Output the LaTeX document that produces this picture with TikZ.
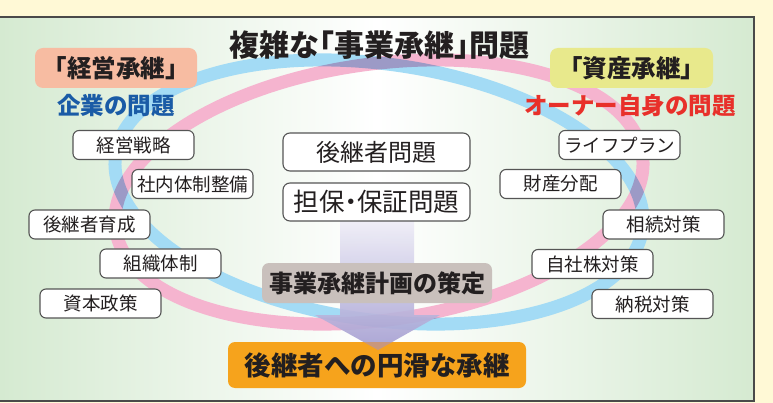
\documentclass[tikz,border=0pt]{standalone}
\usepackage{fontspec}
\newfontfamily\jp{Noto Sans CJK JP}
\newfontfamily\jph[RawFeature=+halt]{Noto Sans CJK JP}
\definecolor{cream}{HTML}{FFF9D6}
\definecolor{panelgreen}{HTML}{ABD5A3}
\definecolor{panelline}{HTML}{4A4A4A}
\definecolor{ringblue}{HTML}{A3DBF5}
\definecolor{ringpink}{HTML}{F5B4CF}
\definecolor{boxline}{HTML}{555555}
\definecolor{txt}{HTML}{231F20}
\definecolor{salmon}{HTML}{F7BCA2}
\definecolor{yel}{HTML}{E8E98C}
\definecolor{bluetxt}{HTML}{1A5BA6}
\definecolor{redtxt}{HTML}{E8302A}
\definecolor{graybox}{HTML}{C9C0BC}
\definecolor{orangebox}{HTML}{F6A31C}
\definecolor{arrowtop}{HTML}{F4F3FA}
\definecolor{arrowbot}{HTML}{A49ED1}
\definecolor{tipcol}{HTML}{C9977C}
\pgfdeclarehorizontalshading{panelbg}{100bp}{color(0bp)=(panelgreen); color(50bp)=(white); color(100bp)=(panelgreen)}
\begin{document}
\begin{tikzpicture}[x=1pt,y=-1pt,
  wbox/.style={draw=boxline, line width=1.1pt, fill=white, rounded corners=6pt,
    minimum width=121pt, minimum height=29pt, inner sep=0pt,
    font=\jp\fontsize{18.5}{20}\selectfont, text=txt},
  cbox/.style={draw=boxline, line width=1.1pt, fill=white, rounded corners=7pt,
    minimum width=187pt, minimum height=38pt, inner sep=0pt,
    font=\jp\fontsize{24}{26}\selectfont, text=txt},
  headbox/.style={rounded corners=8pt, minimum width=162pt, minimum height=40pt,
    inner sep=0pt, font=\jph\bfseries\fontsize{24.5}{26}\selectfont, text=txt},
  sublabel/.style={inner sep=0pt, font=\jp\bfseries\fontsize{23.5}{25}\selectfont},
  ring/.style={line width=13pt}
]
\useasboundingbox (0,0) rectangle (773,403);
\fill[cream] (0,0) rectangle (773,403);
\shade[shading=panelbg] (0,17) rectangle (754,401);
\draw[panelline, line width=2pt] (-2,17) -- (754,17) -- (754,401) -- (-2,401);

% rings
\begin{scope}[transparency group]
\begin{scope}[blend mode=multiply]
\draw[ring, ringblue, rotate around={-8:(379,192)}] (379,192) ellipse [x radius=266, y radius=128];
\draw[ring, ringpink, rotate around={8:(379,192)}] (379,192) ellipse [x radius=266, y radius=128];
\end{scope}
\end{scope}

% arrow
\shade[top color=arrowtop, bottom color=arrowbot, fill opacity=0.92]
  (340,212) -- (414,212) -- (414,315) -- (440,315) -- (378,350) -- (315,315) -- (340,315) -- cycle;

% title
\node[inner sep=0pt, font=\jph\bfseries\fontsize{30}{32}\selectfont, text=txt] (title) at (379,45) {複雑な「事業承継」問題};

% heads
\node[headbox, fill=salmon] (keiei) at (116,68) {「経営承継」};
\node[sublabel, text=bluetxt] (kigyo) at (116,106) {企業の問題};
\node[headbox, fill=yel, minimum width=163pt] (shisan) at (631.5,68) {「資産承継」};
\node[sublabel, text=redtxt] (owner) at (630,106) {オーナー自身の問題};

% left boxes
\node[wbox] (l1) at (133.5,145) {経営戦略};
\node[wbox] (l2) at (192.5,184) {社内体制整備};
\node[wbox] (l3) at (89.5,224.5) {後継者育成};
\node[wbox] (l4) at (160.5,263.5) {組織体制};
\node[wbox] (l5) at (100.5,303.5) {資本政策};

% right boxes
\node[wbox] (r1) at (619.5,145) {ライフプラン};
\node[wbox] (r2) at (560.5,184) {財産分配};
\node[wbox] (r3) at (663.5,224.5) {相続対策};
\node[wbox] (r4) at (592.5,264) {自社株対策};
\node[wbox] (r5) at (652.5,304) {納税対策};

% center boxes
\node[cbox] (c1) at (376.5,152) {後継者問題};
\node[cbox, font=\jph\fontsize{25.5}{27}\selectfont] (c2) at (376.5,202) {担保・保証問題};

\node[fill=graybox, rounded corners=7pt, minimum width=230pt, minimum height=40pt, inner sep=0pt,
  font=\jp\bfseries\fontsize{24}{26}\selectfont, text=txt] (plan) at (377,283) {事業承継計画の策定};

\node[fill=orangebox, rounded corners=7pt, minimum width=298pt, minimum height=46pt, inner sep=0pt] (goal) at (377,365) {};
\fill[tipcol] (363.6,342) -- (392.4,342) -- (378,350) -- cycle;
\node[inner sep=0pt, font=\jp\bfseries\fontsize{26.5}{28}\selectfont, text=txt] (goaltxt) at (goal.center) {後継者への円滑な承継};
\end{tikzpicture}
\end{document}
